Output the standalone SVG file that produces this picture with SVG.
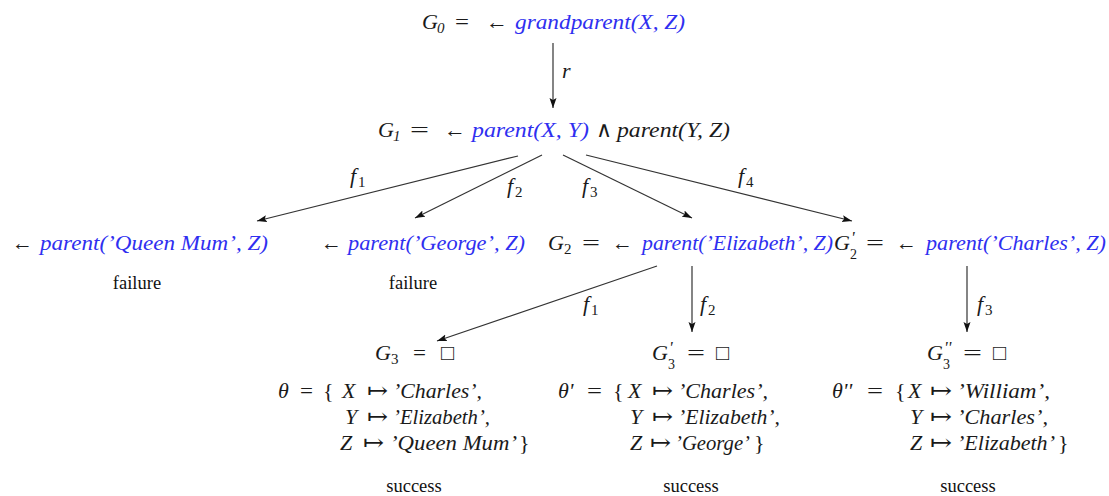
<svg xmlns="http://www.w3.org/2000/svg" width="1109" height="496" viewBox="0 0 1109 496">
<style>
.m{font-family:"Liberation Serif","DejaVu Serif",serif;font-style:italic;font-size:22px;fill:#1a1a1a}
.u{font-style:normal}
.b{fill:#2f2ff0}
.s{font-size:15px;font-style:normal}
.t{font-family:"Liberation Serif","DejaVu Serif",serif;font-size:18.5px;fill:#111;text-anchor:middle}
.e{stroke:#333;stroke-width:1.2;fill:none;marker-end:url(#ah)}
</style>
<defs>
<marker id="ah" markerUnits="userSpaceOnUse" markerWidth="10" markerHeight="8" refX="10" refY="4" orient="auto">
<path d="M0,0.5 L10,4 L0,7.5 L2,4 Z" fill="#111"/>
</marker>
</defs>
<rect width="1109" height="496" fill="#fff"/>

<g id="connectors">
<line class="e" x1="553" y1="43" x2="553" y2="108"/>
<line class="e" x1="518" y1="156" x2="257" y2="221"/>
<line class="e" x1="542" y1="155" x2="415" y2="218"/>
<line class="e" x1="563" y1="155" x2="692" y2="218"/>
<line class="e" x1="586" y1="155" x2="852" y2="221"/>
<line class="e" x1="657" y1="266" x2="437" y2="341"/>
<line class="e" x1="692" y1="266" x2="692" y2="332"/>
<line class="e" x1="967" y1="266" x2="967" y2="332"/>
<text class="m" x="562" y="78">r</text>
<text class="m" x="350" y="183">f</text><text class="m s" x="358" y="187">1</text>
<text class="m" x="507" y="193">f</text><text class="m s" x="515" y="197">2</text>
<text class="m" x="582" y="193">f</text><text class="m s" x="590" y="197">3</text>
<text class="m" x="738" y="183">f</text><text class="m s" x="746" y="187">4</text>
<text class="m" x="583" y="311">f</text><text class="m s" x="591" y="315">1</text>
<text class="m" x="700" y="311">f</text><text class="m s" x="708" y="315">2</text>
<text class="m" x="977" y="311">f</text><text class="m s" x="985" y="315">3</text>
</g>

<g id="g0">
<text class="m" x="422" y="29">G<tspan x="437" y="33" font-size="15">0</tspan></text>
<text class="m u" x="455" y="29" textLength="14" lengthAdjust="spacingAndGlyphs">=</text>
<text class="m u" x="486" y="29" textLength="22" lengthAdjust="spacingAndGlyphs">←</text>
<text class="m b" x="515" y="29" textLength="170" lengthAdjust="spacingAndGlyphs">grandparent(X, Z)</text>
</g>

<g id="g1">
<text class="m" x="378" y="137">G<tspan x="393" y="141" font-size="15">1</tspan></text>
<text class="m u" x="410" y="137" textLength="19" lengthAdjust="spacingAndGlyphs">=</text>
<text class="m u" x="444" y="137" textLength="22" lengthAdjust="spacingAndGlyphs">←</text>
<text class="m b" x="472" y="137" textLength="117" lengthAdjust="spacingAndGlyphs">parent(X, Y)</text>
<text class="m u" x="596" y="137">∧</text>
<text class="m" x="617" y="137" textLength="113" lengthAdjust="spacingAndGlyphs">parent(Y, Z)</text>
</g>

<g id="queenmum">
<text class="m u" x="12" y="250" textLength="21" lengthAdjust="spacingAndGlyphs">←</text>
<text class="m b" x="40" y="250" textLength="228" lengthAdjust="spacingAndGlyphs">parent(’Queen Mum’, Z)</text>
<text class="t" x="137" y="289">failure</text>
</g>

<g id="george">
<text class="m u" x="321" y="250" textLength="21" lengthAdjust="spacingAndGlyphs">←</text>
<text class="m b" x="348" y="250" textLength="177" lengthAdjust="spacingAndGlyphs">parent(’George’, Z)</text>
<text class="t" x="413" y="289">failure</text>
</g>

<g id="g2">
<text class="m" x="548" y="250">G<tspan x="564" y="254" font-size="15" font-style="normal">2</tspan></text>
<text class="m u" x="582" y="250" textLength="18" lengthAdjust="spacingAndGlyphs">=</text>
<text class="m u" x="612" y="250" textLength="21" lengthAdjust="spacingAndGlyphs">←</text>
<text class="m b" x="642" y="250" textLength="191" lengthAdjust="spacingAndGlyphs">parent(’Elizabeth’, Z)</text>
</g>

<g id="g2p">
<text class="m" x="834" y="250">G<tspan x="851" y="242.5" font-size="17">'</tspan><tspan x="850" y="259" font-size="14" font-style="normal">2</tspan></text>
<text class="m u" x="866" y="250" textLength="18" lengthAdjust="spacingAndGlyphs">=</text>
<text class="m u" x="896" y="250" textLength="21" lengthAdjust="spacingAndGlyphs">←</text>
<text class="m b" x="926" y="250" textLength="180" lengthAdjust="spacingAndGlyphs">parent(’Charles’, Z)</text>
</g>

<g id="g3">
<text class="m" x="375" y="360">G<tspan x="391" y="364" font-size="15" font-style="normal">3</tspan></text>
<text class="m u" x="413" y="360" textLength="13" lengthAdjust="spacingAndGlyphs">=</text>
<text class="m u" x="441" y="360">□</text>
<text class="m" x="278" y="398">θ</text>
<text class="m u" x="300" y="398" textLength="13" lengthAdjust="spacingAndGlyphs">=</text>
<text class="m u" x="323" y="398">{</text>
<text class="m" x="342" y="398">X</text>
<text class="m u" x="367" y="398" textLength="21" lengthAdjust="spacingAndGlyphs">↦</text>
<text class="m" x="393" y="398" textLength="89" lengthAdjust="spacingAndGlyphs">’Charles’,</text>
<text class="m" x="345" y="424">Y</text>
<text class="m u" x="367" y="424" textLength="21" lengthAdjust="spacingAndGlyphs">↦</text>
<text class="m" x="393" y="424" textLength="97" lengthAdjust="spacingAndGlyphs">’Elizabeth’,</text>
<text class="m" x="340" y="450">Z</text>
<text class="m u" x="363" y="450" textLength="21" lengthAdjust="spacingAndGlyphs">↦</text>
<text class="m" x="390" y="450" textLength="127" lengthAdjust="spacingAndGlyphs">’Queen Mum’</text>
<text class="m u" x="519" y="450">}</text>
<text class="t" x="414" y="492">success</text>
</g>

<g id="g3p">
<text class="m" x="652" y="360">G<tspan x="669" y="352.5" font-size="17">'</tspan><tspan x="668" y="369" font-size="14" font-style="normal">3</tspan></text>
<text class="m u" x="687" y="360" textLength="18" lengthAdjust="spacingAndGlyphs">=</text>
<text class="m u" x="716" y="360">□</text>
<text class="m" x="558" y="398">θ'</text>
<text class="m u" x="587" y="398" textLength="15" lengthAdjust="spacingAndGlyphs">=</text>
<text class="m u" x="613" y="398">{</text>
<text class="m" x="628" y="398">X</text>
<text class="m u" x="652" y="398" textLength="21" lengthAdjust="spacingAndGlyphs">↦</text>
<text class="m" x="678" y="398" textLength="90" lengthAdjust="spacingAndGlyphs">’Charles’,</text>
<text class="m" x="630" y="424">Y</text>
<text class="m u" x="652" y="424" textLength="21" lengthAdjust="spacingAndGlyphs">↦</text>
<text class="m" x="678" y="424" textLength="102" lengthAdjust="spacingAndGlyphs">’Elizabeth’,</text>
<text class="m" x="630" y="450">Z</text>
<text class="m u" x="650" y="450" textLength="21" lengthAdjust="spacingAndGlyphs">↦</text>
<text class="m" x="675" y="450" textLength="75" lengthAdjust="spacingAndGlyphs">’George’</text>
<text class="m u" x="754" y="450">}</text>
<text class="t" x="691" y="492">success</text>
</g>

<g id="g3pp">
<text class="m" x="927" y="360">G<tspan x="944" y="352.5" font-size="17">''</tspan><tspan x="943" y="369" font-size="14" font-style="normal">3</tspan></text>
<text class="m u" x="963" y="360" textLength="19" lengthAdjust="spacingAndGlyphs">=</text>
<text class="m u" x="993" y="360">□</text>
<text class="m" x="832" y="398">θ''</text>
<text class="m u" x="867" y="398" textLength="16" lengthAdjust="spacingAndGlyphs">=</text>
<text class="m u" x="895" y="398">{</text>
<text class="m" x="908" y="398">X</text>
<text class="m u" x="930" y="398" textLength="22" lengthAdjust="spacingAndGlyphs">↦</text>
<text class="m" x="957" y="398" textLength="93" lengthAdjust="spacingAndGlyphs">’William’,</text>
<text class="m" x="910" y="424">Y</text>
<text class="m u" x="930" y="424" textLength="22" lengthAdjust="spacingAndGlyphs">↦</text>
<text class="m" x="957" y="424" textLength="91" lengthAdjust="spacingAndGlyphs">’Charles’,</text>
<text class="m" x="910" y="450">Z</text>
<text class="m u" x="930" y="450" textLength="22" lengthAdjust="spacingAndGlyphs">↦</text>
<text class="m" x="957" y="450" textLength="98" lengthAdjust="spacingAndGlyphs">’Elizabeth’</text>
<text class="m u" x="1058" y="450">}</text>
<text class="t" x="968" y="492">success</text>
</g>
</svg>
